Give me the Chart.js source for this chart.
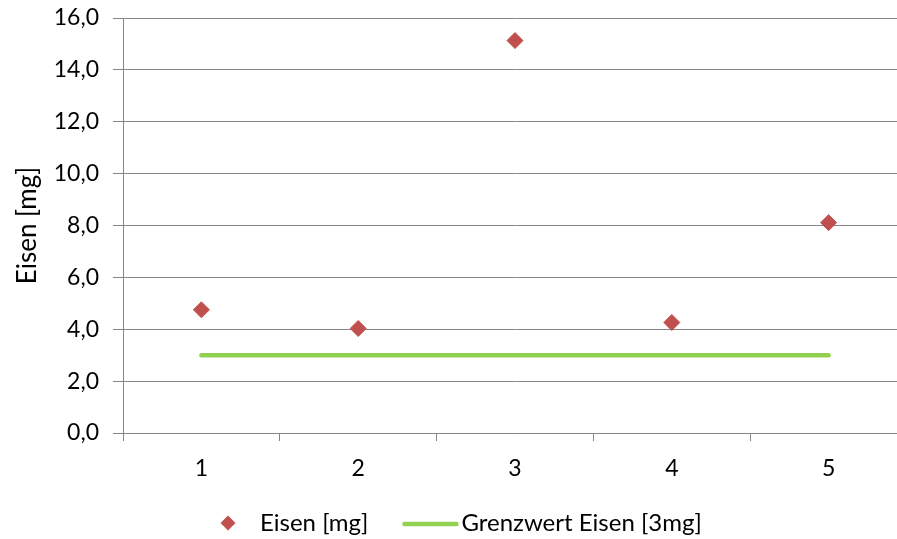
<!DOCTYPE html>
<html>
<head>
<meta charset="utf-8">
<script src="https://cdn.jsdelivr.net/npm/chart.js@4/dist/chart.umd.min.js"></script>
<style>
  html, body { margin: 0; padding: 0; background: #fff; overflow: hidden; }
  #wrap { position: absolute; left: 0; top: 0; width: 916px; height: 539px; }
  #c { display: block; width: 916px; height: 539px; }
</style>
</head>
<body>
<div id="wrap"><canvas id="c" width="916" height="539"></canvas></div>
<script>
// Messungen
const probenNummern = ['1', '2', '3', '4', '5'];
const eisenWerte = [4.75, 4.03, 15.13, 4.26, 8.11];
const grenzwertEisen = [3, 3, 3, 3, 3];
const reihenNamen = ['Eisen [mg]', 'Grenzwert Eisen [3mg]'];
const achsenTitel = 'Eisen [mg]';

const ROT = '#C0504D';
const GRUEN = '#92D050';
const GITTER = '#868686';
const SCHRIFT = 'Lato, "Open Sans", sans-serif';

Chart.defaults.font.family = SCHRIFT;
Chart.defaults.color = '#000';

// Legende unter dem Diagramm: Raute für die Messreihe, Linie für den Grenzwert
const legende = {
  id: 'legende',
  afterDraw(chart) {
    const ctx = chart.ctx;
    const y = 523;
    const sets = chart.data.datasets;
    ctx.save();
    ctx.font = '24px ' + SCHRIFT;
    ctx.textBaseline = 'middle';
    ctx.textAlign = 'left';

    // Eintrag 1: Raute
    const cx = 228, r = 7.5;
    ctx.fillStyle = sets[0].pointBackgroundColor;
    ctx.beginPath();
    ctx.moveTo(cx, y - r); ctx.lineTo(cx + r, y); ctx.lineTo(cx, y + r); ctx.lineTo(cx - r, y);
    ctx.closePath(); ctx.fill();
    ctx.fillStyle = '#000';
    const t1 = 260;
    ctx.fillText(sets[0].label, t1, y);
    const e1 = t1 + ctx.measureText(sets[0].label).width;

    // Eintrag 2: Linie
    const l0 = e1 + 36, l1 = l0 + 52;
    ctx.strokeStyle = sets[1].borderColor;
    ctx.lineWidth = sets[1].borderWidth;
    ctx.lineCap = 'round';
    ctx.beginPath(); ctx.moveTo(l0, y + 1); ctx.lineTo(l1, y + 1); ctx.stroke();
    ctx.fillText(sets[1].label, l1 + 5, y);
    ctx.restore();
  }
};

new Chart(document.getElementById('c'), {
  type: 'line',
  data: {
    labels: probenNummern,
    datasets: [
      {
        label: reihenNamen[0],
        data: eisenWerte,
        showLine: false,
        pointStyle: 'rectRot',
        pointRadius: 8,
        pointHoverRadius: 8,
        pointBackgroundColor: ROT,
        pointBorderColor: ROT,
        pointBorderWidth: 1,
        borderColor: ROT,
        backgroundColor: ROT
      },
      {
        label: reihenNamen[1],
        data: grenzwertEisen,
        borderColor: GRUEN,
        backgroundColor: GRUEN,
        borderWidth: 4.5,
        borderCapStyle: 'round',
        pointRadius: 0,
        pointHoverRadius: 0,
        tension: 0
      }
    ]
  },
  plugins: [legende],
  options: {
    responsive: false,
    maintainAspectRatio: false,
    animation: false,
    devicePixelRatio: 1,
    layout: { padding: { top: 18, left: 0, right: 0, bottom: 0 } },
    plugins: {
      tooltip: { enabled: false },
      legend: { display: false }
    },
    scales: {
      x: {
        type: 'category',
        offset: true,
        grid: {
          offset: true,
          drawOnChartArea: false,
          drawTicks: true,
          tickLength: 8,
          color: GITTER
        },
        border: { display: true, color: GITTER, width: 1 },
        ticks: { padding: 14, color: '#000', font: { size: 23, family: SCHRIFT } },
        afterFit(scale) {
          scale.height = 106;
          scale.paddingLeft = 0;
          scale.paddingRight = 0;
        }
      },
      y: {
        min: 0,
        max: 16,
        ticks: {
          stepSize: 2,
          padding: 14,
          color: '#000',
          font: { size: 23, family: SCHRIFT },
          callback: v => v.toFixed(1).replace('.', ',')
        },
        grid: { color: GITTER, lineWidth: 1, tickLength: 10 },
        border: { display: true, color: GITTER, width: 1 },
        title: {
          display: true,
          text: achsenTitel,
          color: '#000',
          font: { size: 26, family: SCHRIFT },
          padding: { top: 12, bottom: 0 }
        },
        afterFit(scale) {
          scale.width = 123;
          scale.paddingTop = 0;
          scale.paddingBottom = 0;
        }
      }
    }
  }
});
</script>
</body>
</html>
